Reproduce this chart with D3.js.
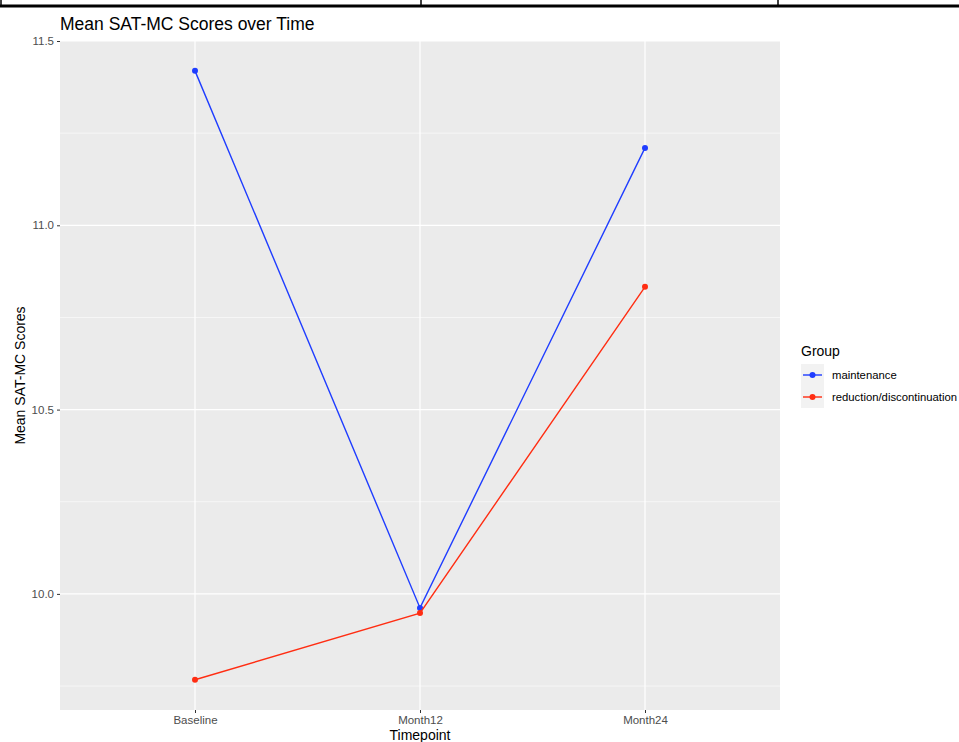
<!DOCTYPE html>
<html><head><meta charset="utf-8">
<script src="https://cdn.jsdelivr.net/npm/d3@7"></script>
<style>body{margin:0;background:#fff;} svg{display:block;font-family:"Liberation Sans",Arial,sans-serif;}</style>
</head><body>
<script>
const timepoints = ["Baseline", "Month12", "Month24"];
const groups = ["maintenance", "reduction/discontinuation"];
const maintenance = [11.419, 9.962, 11.21];
const reduction = [9.767, 9.948, 10.833];
const yTicks = [10.0, 10.5, 11.0, 11.5];
const yMinor = [9.75, 10.25, 10.75, 11.25];
const colors = ["#1f3dff", "#ff2d12"];

const W = 959, H = 742;
const svg = d3.select("body").append("svg").attr("width", W).attr("height", H);

// table fragment at top
svg.append("line").attr("x1",0).attr("x2",W).attr("y1",6).attr("y2",6).attr("stroke","#000").attr("stroke-width",3);
[1, 421, 778].forEach(x => svg.append("line").attr("x1",x).attr("x2",x).attr("y1",0).attr("y2",6).attr("stroke","#000").attr("stroke-width",1.5));

const L = 60, R = 780, T = 41, B = 710;
const x = d3.scalePoint().domain(timepoints).range([L, R]).padding(0.6);
const y = d3.scaleLinear().domain([9.685, 11.5]).range([B, T]);

svg.append("rect").attr("x",L).attr("y",T).attr("width",R-L).attr("height",B-T).attr("fill","#ebebeb");
const g = svg.append("g");
yMinor.forEach(v => g.append("line").attr("x1",L).attr("x2",R).attr("y1",y(v)).attr("y2",y(v)).attr("stroke","#fff").attr("stroke-width",0.6));
yTicks.forEach(v => g.append("line").attr("x1",L).attr("x2",R).attr("y1",y(v)).attr("y2",y(v)).attr("stroke","#fff").attr("stroke-width",1.2));
timepoints.forEach(t => g.append("line").attr("x1",x(t)).attr("x2",x(t)).attr("y1",T).attr("y2",B).attr("stroke","#fff").attr("stroke-width",1.2));

const yAxis = svg.append("g").attr("transform",`translate(${L},0)`)
  .call(d3.axisLeft(y).tickValues(yTicks).tickFormat(d3.format(".1f")).tickSize(3).tickPadding(3));
const xAxis = svg.append("g").attr("transform",`translate(0,${B})`)
  .call(d3.axisBottom(x).tickSize(3).tickPadding(3));
[yAxis, xAxis].forEach(a => {
  a.select(".domain").remove();
  a.selectAll(".tick line").attr("stroke","#333").attr("stroke-width",1);
  a.selectAll(".tick text").attr("fill","#4d4d4d").style("font-size","11.5px").style("font-family","'Liberation Sans',Arial,sans-serif");
});

const series = [maintenance, reduction];
const line = d3.line().x((d,i) => x(timepoints[i])).y(d => y(d));
series.forEach((s, k) => {
  svg.append("path").attr("d", line(s)).attr("fill","none").attr("stroke",colors[k]).attr("stroke-width",1.4);
  s.forEach((v,i) => svg.append("circle").attr("cx",x(timepoints[i])).attr("cy",y(v)).attr("r",3).attr("fill",colors[k]));
});

svg.append("text").attr("x",L).attr("y",30).text("Mean SAT-MC Scores over Time").style("font-size","17.5px").attr("fill","#000");
svg.append("text").attr("x",(L+R)/2).attr("y",740).attr("text-anchor","middle").text("Timepoint").style("font-size","14px");
svg.append("text").attr("transform",`translate(25,${(T+B)/2}) rotate(-90)`).attr("text-anchor","middle").text("Mean SAT-MC Scores").style("font-size","14px");

// legend
const lg = svg.append("g");
lg.append("text").attr("x",801).attr("y",356).text("Group").style("font-size","14px");
groups.forEach((gname, k) => {
  const cy = 375 + k*22;
  lg.append("rect").attr("x",801).attr("y",cy-11).attr("width",23).attr("height",22).attr("fill","#f2f2f2");
  lg.append("line").attr("x1",803).attr("x2",822).attr("y1",cy).attr("y2",cy).attr("stroke",colors[k]).attr("stroke-width",1.4);
  lg.append("circle").attr("cx",812.5).attr("cy",cy).attr("r",3).attr("fill",colors[k]);
  lg.append("text").attr("x",832).attr("y",cy+4).text(gname).style("font-size","11.3px").attr("fill","#000");
});
</script>
</body></html>
